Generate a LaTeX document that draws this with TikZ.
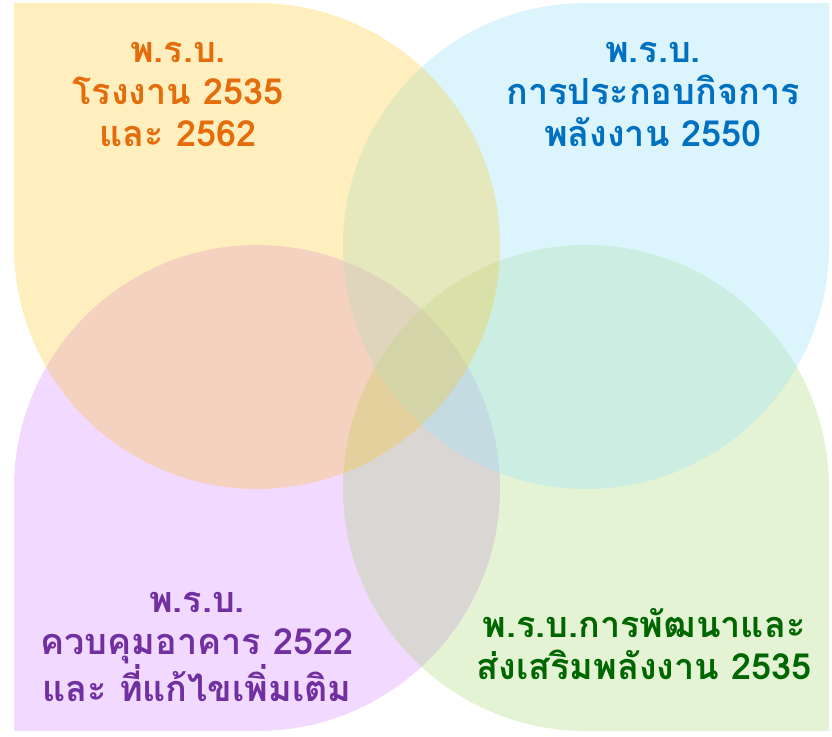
\documentclass[tikz,border=0pt]{standalone}
\usepackage{fontspec}
\newfontfamily\thaifont[Script=Thai]{Loma}
\definecolor{goldfill}{RGB}{255,192,0}
\definecolor{skyfill}{RGB}{168,228,248}
\definecolor{lilacfill}{RGB}{204,102,255}
\definecolor{limefill}{RGB}{146,208,80}
\definecolor{orangetext}{RGB}{228,108,10}
\definecolor{bluetext}{RGB}{0,112,192}
\definecolor{purpletext}{RGB}{112,48,160}
\definecolor{greentext}{RGB}{0,102,0}
\begin{document}
\begin{tikzpicture} [x=1pt,y=1pt,
    lawtext/.style={align=center,font=\thaifont\bfseries\fontsize{36}{42}\selectfont}]
        \useasboundingbox (0,0) rectangle (832,736);
% purple, bottom left
        \fill [ lilacfill, fill opacity=.25 ] (14,5) -- (257,5)
              arc [start angle=-90, end angle=180, radius=243] -- cycle;
% green, bottom right
        \fill [ limefill, fill opacity=.25 ] (829,5) -- (829,248)
              arc [start angle=0, end angle=270, radius=243] -- cycle;
% blue, top right
        \fill [ skyfill, fill opacity=.4 ] (829,733) -- (586,733)
              arc [start angle=90, end angle=360, radius=243] -- cycle;
% orange, top left
        \fill [ goldfill, fill opacity=.25 ] (14,733) -- (14,490)
              arc [start angle=180, end angle=450, radius=243] -- cycle;

      \node[lawtext,text=orangetext] (factory) at (178,641) {พ.ร.บ.\\โรงงาน 2535\\และ 2562};
      \node[lawtext,text=bluetext]   (energybiz) at (653,641) {พ.ร.บ.\\การประกอบกิจการ\\พลังงาน 2550};
      \node[lawtext,text=purpletext] (building) at (197,89) {พ.ร.บ.\\ควบคุมอาคาร 2522\\และ ที่แก้ไขเพิ่มเติม};
      \node[lawtext,text=greentext]  (promotion) at (644,92) {พ.ร.บ.การพัฒนาและ\\ส่งเสริมพลังงาน 2535};
    \end{tikzpicture}
\end{document}
